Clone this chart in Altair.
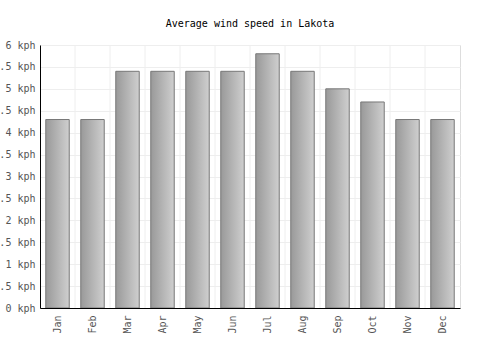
import altair as alt
import pandas as pd

months = ["Jan", "Feb", "Mar", "Apr", "May", "Jun", "Jul", "Aug", "Sep", "Oct", "Nov", "Dec"]
wind = [4.3, 4.3, 5.4, 5.4, 5.4, 5.4, 5.8, 5.4, 5.0, 4.7, 4.3, 4.3]
y_ticks = [0, 0.5, 1, 1.5, 2, 2.5, 3, 3.5, 4, 4.5, 5, 5.5, 6]

df = pd.DataFrame({"month": months, "wind": wind})

FONT = "DejaVu Sans Mono"

xscale = alt.Scale(domain=months, paddingInner=0, paddingOuter=0)

xaxis = alt.Axis(labelAngle=270, ticks=False, domainColor="#000000", domainWidth=1, labelPadding=7,
                 labelFont=FONT, labelFontSize=10, labelColor="#555555", grid=False, zindex=1)

grad = alt.Gradient(
    gradient="linear",
    stops=[alt.GradientStop(color="#999999", offset=0), alt.GradientStop(color="#cfcfcf", offset=1)],
    x1=0, x2=1, y1=0, y2=0,
)

vrules = alt.Chart(df).transform_filter(alt.datum.month != months[0]).mark_rule(
    color="#eeeeee", strokeWidth=1
).encode(
    x=alt.X("month:N", scale=xscale, bandPosition=0, title=None, axis=xaxis)
)

bars = alt.Chart(df).mark_bar(
    color=grad, stroke="#777777", strokeWidth=1, width=alt.RelativeBandSize(0.67)
).encode(
    x=alt.X("month:N", scale=xscale, sort=months, title=None, axis=xaxis),
    y=alt.Y(
        "wind:Q", title=None, scale=alt.Scale(domain=[0, 6], nice=False),
        axis=alt.Axis(values=y_ticks, labelExpr="datum.value + ' kph'", ticks=False,
                      domainColor="#000000", domainWidth=1, gridColor="#eeeeee", labelPadding=5,
                      labelFont=FONT, labelFontSize=10, labelColor="#555555"),
    ),
)

chart = alt.layer(vrules, bars).properties(
    width=420, height=263,
    autosize=alt.AutoSizeParams(type="none"),
    padding={"left": 40, "top": 45, "right": 40, "bottom": 42},
    title=alt.TitleParams("Average wind speed in Lakota", font=FONT, fontSize=10,
                          fontWeight="normal", color="#000000", offset=11, anchor="middle"),
).configure_view(stroke="#eeeeee").configure(background="white")

chart.save("out.html", embed_options={"renderer": "svg", "actions": False})
